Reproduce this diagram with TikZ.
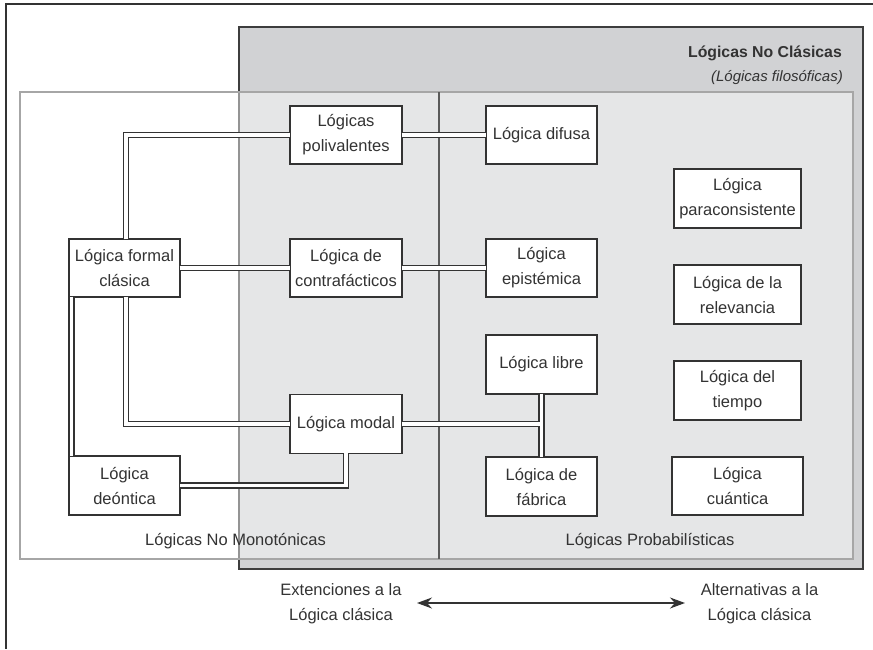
\documentclass[tikz,border=0pt]{standalone}
\usepackage{fontspec}
\setmainfont{Liberation Sans}
\usetikzlibrary{arrows.meta}
\definecolor{boxdark}{HTML}{D1D2D4}
\definecolor{linecol}{HTML}{333333}
\definecolor{bordercol}{HTML}{3D3D3D}
\definecolor{innercol}{HTML}{A6A6A6}
\definecolor{txtcol}{HTML}{333333}
\newcommand\mainfs{\fontsize{16.5}{25}\selectfont}
\tikzset{
  lbox/.style={draw=linecol, fill=white, line width=1.2pt, inner sep=0pt,
    align=center, text=txtcol, font=\mainfs,
    minimum width=112pt, minimum height=58pt},
  lbl/.style={inner sep=0pt, align=center, text=txtcol, font=\mainfs},
  connout/.style={draw=linecol, line width=6.1pt},
  connin/.style={draw=white, line width=3.9pt, shorten <=-1pt, shorten >=-1pt},
}
\newcommand\myconnectors[1]{%
  \draw[#1] ([xshift=1.5pt]formal.north) |- (poli.west);
  \draw[#1] (poli.east) -- (difusa.west);
  \draw[#1] (formal.east) -- (contra.west);
  \draw[#1] (contra.east) -- (epis.west);
  \draw[#1] ([xshift=-53pt]formal.south) -- ([xshift=-53pt]formal.south |- deon.north);
  \draw[#1] ([xshift=1.5pt]formal.south) |- (modal.west);
  \draw[#1] (modal.south) |- (deon.east);
  \draw[#1] (modal.east) -- (modal.east -| libre.south);
  \draw[#1] (libre.south) -- (fabrica.north);
}
\begin{document}
\begin{tikzpicture}[x=1pt,y=-1pt]
\useasboundingbox (0,0) rectangle (873,649);
% outer frame (top and left)
\draw[linecol, line width=1.5pt] (873,4) -- (6,4) -- (6,649);
% Lógicas no clásicas box
\draw[fill=boxdark, draw=bordercol, line width=1.8pt] (239,27) rectangle (863,569);
% inner translucent region
\fill[white, fill opacity=0.45] (20,92) rectangle (853,559);
\draw[innercol, line width=1.3pt] (20,92) rectangle (853,559);
% divider
\draw[bordercol!85, line width=1.2pt] (439,92) -- (439,559);
% titles
\node[anchor=base east, inner sep=0pt, text=txtcol, font=\fontsize{15.8}{18}\selectfont\bfseries] (title) at (842,57) {Lógicas No Clásicas};
\node[anchor=base east, inner sep=0pt, text=txtcol, font=\fontsize{15}{18}\selectfont\itshape] (subtitle) at (843,81) {(Lógicas filosóficas)};
% boxes
\node[lbox] (poli) at (346,135) {Lógicas\\polivalentes};
\node[lbox] (contra) at (346,268) {Lógica de\\contrafácticos};
\node[lbox, minimum width=111pt] (formal) at (124.5,268) {Lógica formal\\clásica};
\node[lbox, minimum height=59pt] (modal) at (346,424) {Lógica modal};
\node[lbox, minimum width=111pt, minimum height=59pt] (deon) at (124.5,485.5) {Lógica\\deóntica};
\node[lbox, minimum width=111pt] (difusa) at (541.5,135) {Lógica difusa};
\node[lbox, minimum width=111pt] (epis) at (541.5,268) {Lógica\\epistémica};
\node[lbox, minimum width=111pt, minimum height=59pt] (libre) at (541.5,364.5) {Lógica libre};
\node[lbox, minimum width=111pt, minimum height=59pt] (fabrica) at (541.5,486.5) {Lógica de\\fábrica};
\node[lbox, minimum width=127pt, minimum height=59pt] (para) at (737.5,198.5) {Lógica\\paraconsistente};
\node[lbox, minimum width=127pt, minimum height=59pt] (relev) at (737.5,294.5) {Lógica de la\\relevancia};
\node[lbox, minimum width=127pt, minimum height=59pt] (tiempo) at (737.5,390.5) {Lógica del\\tiempo};
\node[lbox, minimum width=131pt, minimum height=58pt] (cuant) at (737.5,486) {Lógica\\cuántica};
% connectors (double lines, merged into the boxes)
\myconnectors{connout}
\myconnectors{connin}
% region labels
\node[lbl, anchor=base] (nomono) at (235.5,545) {Lógicas No Monotónicas};
\node[lbl, anchor=base] (proba) at (650,545) {Lógicas Probabilísticas};
% bottom labels and arrow
\node[lbl] (ext) at (341,604) {Extenciones a la\\Lógica clásica};
\node[lbl] (alt) at (759.5,604) {Alternativas a la\\Lógica clásica};
\coordinate (arrL) at (417,603);
\coordinate (arrR) at (685,603);
\draw[linecol, line width=1.3pt, {Stealth[length=15pt,width=11pt]}-{Stealth[length=15pt,width=11pt]}] (arrL) -- (arrR);
\end{tikzpicture}
\end{document}
